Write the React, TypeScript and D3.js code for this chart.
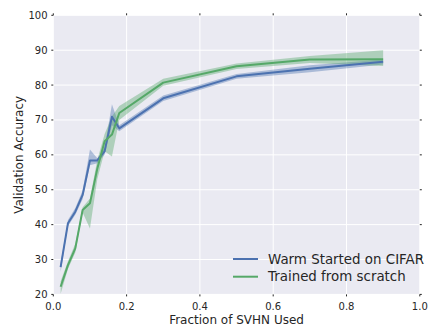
import React from "react";
import * as d3 from "d3";

const fractions = [0.02, 0.04, 0.06, 0.08, 0.1, 0.12, 0.14, 0.16, 0.18, 0.3, 0.5, 0.7, 0.9];
const warmMean = [27.8, 40.4, 43.7, 48.5, 58.4, 58.4, 61.0, 70.9, 67.6, 76.2, 82.5, 84.7, 86.7];
const warmLow = [26.5, 39.5, 42.8, 47.3, 57.0, 57.6, 60.0, 68.5, 66.8, 75.4, 81.8, 83.7, 85.9];
const warmHigh = [29.0, 41.3, 44.8, 49.8, 61.5, 59.0, 62.0, 74.5, 68.5, 77.0, 83.2, 85.7, 87.3];
const scratchMean = [22.2, 28.4, 33.2, 44.2, 46.1, 56.0, 63.9, 65.8, 72.0, 80.7, 85.4, 87.3, 87.4];
const scratchLow = [20.2, 27.3, 32.0, 43.5, 38.9, 53.0, 61.0, 59.5, 70.0, 79.8, 84.6, 86.3, 85.5];
const scratchHigh = [23.8, 29.5, 34.5, 45.0, 47.5, 58.5, 66.0, 71.0, 74.0, 81.8, 86.2, 88.3, 90.0];
const xTicks = [0, 0.2, 0.4, 0.6, 0.8, 1.0];
const yTicks = [20, 30, 40, 50, 60, 70, 80, 90, 100];
const seriesNames = ["Warm Started on CIFAR", "Trained from scratch"];
const colors = ["#4C72B0", "#55A868"];

export default function App() {
  const W = 430, H = 327;
  const left = 53.3, right = 419.8, top = 15.3, bottom = 294.4;
  const x = d3.scaleLinear().domain([0, 1]).range([left, right]);
  const y = d3.scaleLinear().domain([20, 100]).range([bottom, top]);
  const font = "'DejaVu Sans', sans-serif";
  const textColor = "#262626";

  const series = [
    { mean: warmMean, low: warmLow, high: warmHigh },
    { mean: scratchMean, low: scratchLow, high: scratchHigh },
  ];
  const line = d3.line<number>().x((_, i) => x(fractions[i])).y((d) => y(d));
  const area = (lo: number[], hi: number[]) =>
    d3
      .area<number>()
      .x((_, i) => x(fractions[i]))
      .y0((_, i) => y(lo[i]))
      .y1((_, i) => y(hi[i]))(fractions);

  return (
    <svg width={W} height={H} style={{ position: "absolute", left: 0, top: 0, background: "#fff" }}>
      <rect x={left} y={top} width={right - left} height={bottom - top} fill="#EAEAF2" />
      {xTicks.map((t) => (
        <line key={"gx" + t} x1={x(t)} x2={x(t)} y1={top} y2={bottom} stroke="#fff" strokeWidth={1} />
      ))}
      {yTicks.map((t) => (
        <line key={"gy" + t} x1={left} x2={right} y1={y(t)} y2={y(t)} stroke="#fff" strokeWidth={1} />
      ))}
      {series.map((s, k) => (
        <path key={"a" + k} d={area(s.low, s.high) || ""} fill={colors[k]} fillOpacity={0.4} stroke="none" />
      ))}
      {series.map((s, k) => (
        <path key={"l" + k} d={line(s.mean) || ""} fill="none" stroke={colors[k]} strokeWidth={2} strokeLinejoin="round" />
      ))}
      {yTicks.map((t) => (
        <g key={"ty" + t}>
          <line x1={left - 2} x2={left} y1={y(t)} y2={y(t)} stroke={textColor} strokeWidth={1} />
          <line x1={right} x2={right + 2} y1={y(t)} y2={y(t)} stroke={textColor} strokeWidth={1} />
        </g>
      ))}
      {xTicks.map((t) => (
        <g key={"tx" + t}>
          <line x1={x(t)} x2={x(t)} y1={bottom} y2={bottom + 2} stroke={textColor} strokeWidth={1} />
          <line x1={x(t)} x2={x(t)} y1={top - 2} y2={top} stroke={textColor} strokeWidth={1} />
        </g>
      ))}
      {yTicks.map((t) => (
        <text key={"yl" + t} x={47.5} y={y(t)} dy="0.35em" textAnchor="end" fontFamily={font} fontSize={10} fill={textColor}>
          {t}
        </text>
      ))}
      {xTicks.map((t) => (
        <text key={"xl" + t} x={x(t)} y={309.5} textAnchor="middle" fontFamily={font} fontSize={10} fill={textColor}>
          {t.toFixed(1)}
        </text>
      ))}
      <text x={(left + right) / 2} y={323.5} textAnchor="middle" fontFamily={font} fontSize={12} fill={textColor}>
        Fraction of SVHN Used
      </text>
      <text
        transform={`translate(22.5,${(top + bottom) / 2}) rotate(-90)`}
        textAnchor="middle"
        fontFamily={font}
        fontSize={12}
        fill={textColor}
      >
        Validation Accuracy
      </text>
      {seriesNames.map((n, k) => (
        <g key={"lg" + k}>
          <line x1={233} x2={258} y1={259 + k * 17.7} y2={259 + k * 17.7} stroke={colors[k]} strokeWidth={2} />
          <text x={268} y={259 + k * 17.7} dy="0.35em" fontFamily={font} fontSize={13.4} fill={textColor}>
            {n}
          </text>
        </g>
      ))}
    </svg>
  );
}
